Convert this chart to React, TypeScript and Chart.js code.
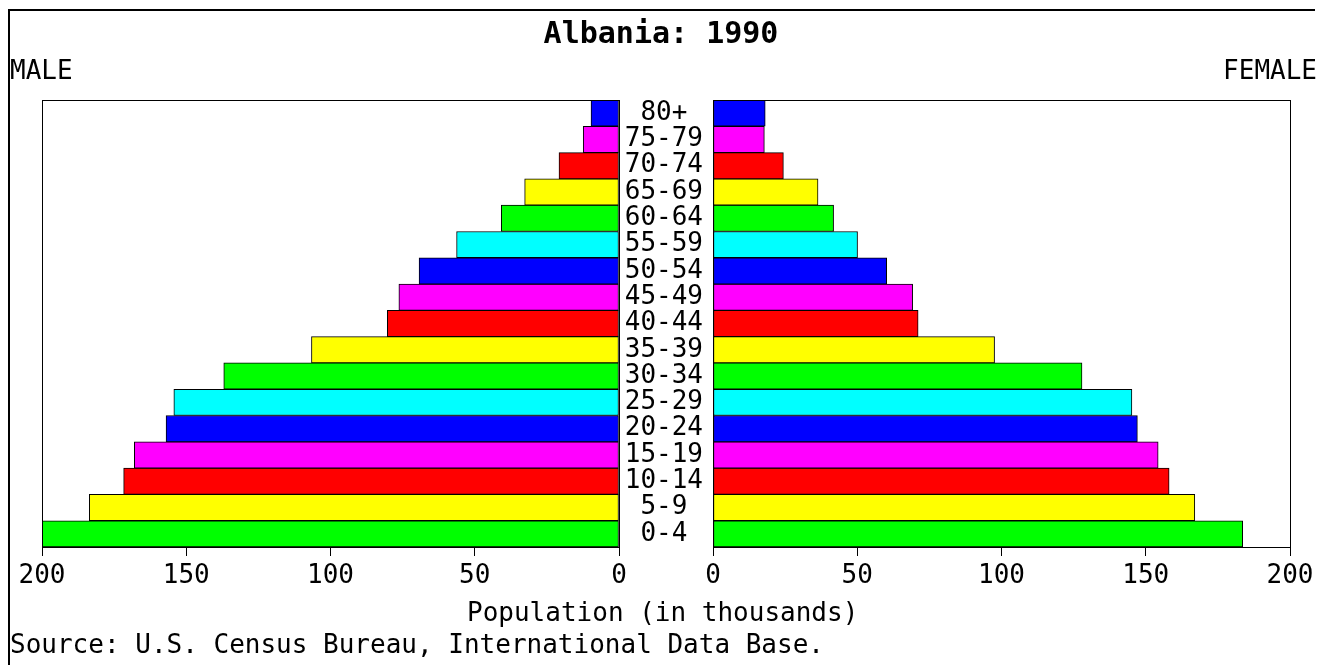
import React, { useEffect, useRef } from 'react';
import { Chart, registerables } from 'chart.js';

Chart.register(...registerables);

// ---- Data ----
const AGE_GROUPS = ['0-4', '5-9', '10-14', '15-19', '20-24', '25-29', '30-34', '35-39', '40-44', '45-49', '50-54', '55-59', '60-64', '65-69', '70-74', '75-79', '80+'];
const MALE = [199.9, 183.6, 171.7, 168.0, 157.0, 154.3, 137.0, 106.6, 80.3, 76.3, 69.3, 56.3, 40.8, 32.7, 20.8, 12.4, 9.7];
const FEMALE = [183.6, 167.0, 158.1, 154.3, 147.1, 145.2, 127.9, 97.6, 71.1, 69.2, 60.2, 50.1, 41.8, 36.4, 24.4, 17.8, 18.1];
const BAR_COLORS = ['#00ff00', '#ffff00', '#ff0000', '#ff00ff', '#0000ff', '#00ffff'];
const X_TICKS = [0, 50, 100, 150, 200];
const TITLE = 'Albania: 1990';
const LEFT_LABEL = 'MALE';
const RIGHT_LABEL = 'FEMALE';
const X_TITLE = 'Population (in thousands)';
const SOURCE = 'Source: U.S. Census Bureau, International Data Base.';

const FONT = '"DejaVu Sans Mono", "Liberation Mono", monospace';
const W = 1322;
const H = 665;

const framePlugin = {
  id: 'frame',
  afterDatasetsDraw(chart: any) {
    const { ctx, chartArea: a } = chart;
    ctx.save();
    ctx.strokeStyle = '#000';
    ctx.lineWidth = 1;
    const l = Math.round(a.left) + 0.5;
    const t = Math.round(a.top) + 0.5;
    ctx.strokeRect(l, t, Math.round(a.right) - Math.round(a.left), Math.round(a.bottom) - Math.round(a.top));
    ctx.restore();
  },
};

function makeConfig(values: number[], isMale: boolean): any {
  const colors = AGE_GROUPS.map((_, i) => BAR_COLORS[i % BAR_COLORS.length]);
  return {
    type: 'bar',
    data: {
      labels: AGE_GROUPS,
      datasets: [
        {
          data: values,
          backgroundColor: colors,
          borderColor: '#000',
          borderWidth: 1,
          borderSkipped: false,
          barPercentage: 1,
          categoryPercentage: 1,
        },
      ],
    },
    options: {
      indexAxis: 'y',
      responsive: false,
      animation: false,
      events: [],
      layout: {
        padding: isMale
          ? { left: 42, right: W - 619, top: 100, bottom: H - 547 - 60 }
          : { left: 619, right: W - 1290, top: 100, bottom: H - 547 - 60 },
      },
      plugins: {
        legend: { display: false },
        tooltip: { enabled: false },
        title: { display: false },
      },
      scales: {
        x: {
          type: 'linear',
          min: 0,
          max: 200,
          reverse: isMale,
          afterBuildTicks: (s: any) => {
            s.ticks = X_TICKS.map((v) => ({ value: v }));
          },
          afterFit: (s: any) => {
            s.height = 60;
          },
          ticks: {
            font: { family: FONT, size: 26 },
            color: '#000',
            padding: 5,
            maxRotation: 0,
            autoSkip: false,
          },
          grid: {
            drawOnChartArea: false,
            drawTicks: true,
            tickLength: 9,
            color: '#000',
            lineWidth: 1,
          },
          border: { display: true, color: '#000', width: 1 },
        },
        y: isMale
          ? { type: 'category', reverse: true, display: false }
          : {
              type: 'category',
              reverse: true,
              position: 'left',
              afterFit: (s: any) => {
                s.width = 94;
              },
              ticks: {
                font: { family: FONT, size: 26 },
                color: '#000',
                crossAlign: 'center',
                padding: 10,
                autoSkip: false,
              },
              grid: { display: false, drawTicks: false },
              border: { display: false },
            },
      },
    },
    plugins: [framePlugin],
  };
}

export default function App() {
  const leftRef = useRef<HTMLCanvasElement | null>(null);
  const rightRef = useRef<HTMLCanvasElement | null>(null);

  useEffect(() => {
    const left = new Chart(leftRef.current as HTMLCanvasElement, makeConfig(MALE, true));
    const right = new Chart(rightRef.current as HTMLCanvasElement, makeConfig(FEMALE, false));
    return () => {
      left.destroy();
      right.destroy();
    };
  }, []);

  const text: React.CSSProperties = {
    position: 'absolute',
    fontFamily: FONT,
    fontSize: 26,
    lineHeight: '26px',
    color: '#000',
    whiteSpace: 'pre',
  };

  return (
    <div style={{ position: 'fixed', left: 0, top: 0, width: W, height: H, background: '#fff', overflow: 'hidden' }}>
      <div
        style={{
          position: 'absolute',
          left: 8,
          top: 9,
          width: 1305,
          height: 660,
          borderLeft: '2px solid #000',
          borderTop: '2px solid #000',
        }}
      />
      <canvas ref={leftRef} width={W} height={H} style={{ position: 'absolute', left: 0, top: 0, width: W, height: H }} />
      <canvas ref={rightRef} width={W} height={H} style={{ position: 'absolute', left: 0, top: 0, width: W, height: H }} />
      <div style={{ ...text, left: 0, width: W, textAlign: 'center', top: 18, fontSize: 30, lineHeight: '30px', fontWeight: 'bold' }}>{TITLE}</div>
      <div style={{ ...text, left: 10, top: 57 }}>{LEFT_LABEL}</div>
      <div style={{ ...text, right: 5, top: 57 }}>{RIGHT_LABEL}</div>
      <div style={{ ...text, left: 467, top: 599 }}>{X_TITLE}</div>
      <div style={{ ...text, left: 10, top: 631 }}>{SOURCE}</div>
    </div>
  );
}
